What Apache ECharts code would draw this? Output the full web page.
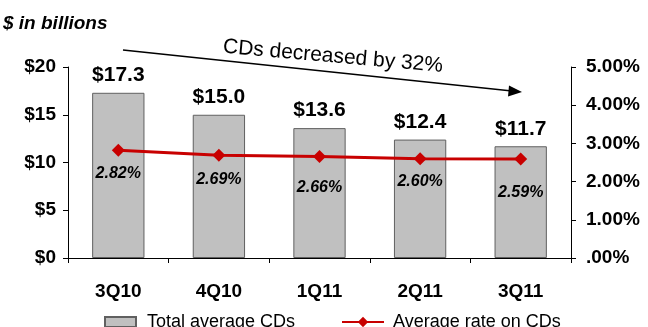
<!DOCTYPE html>
<html>
<head>
<meta charset="utf-8">
<script src="https://cdn.jsdelivr.net/npm/echarts@6/dist/echarts.min.js"></script>
<style>
  html, body { margin: 0; padding: 0; background: #fff; }
  #chart { width: 648px; height: 327px; }
</style>
</head>
<body>
<div id="chart"></div>
<script>
// Quarterly CD balances and average rates
const quarters = ['3Q10', '4Q10', '1Q11', '2Q11', '3Q11'];
const totalAverageCDs = [17.3, 15.0, 13.6, 12.4, 11.7];   // $ billions
const averageRateOnCDs = [2.82, 2.69, 2.66, 2.60, 2.59];  // percent
const balanceTicks = ['$0', '$5', '$10', '$15', '$20'];
const rateTicks = ['.00%', '1.00%', '2.00%', '3.00%', '4.00%', '5.00%'];

// gap between each rate point and its label (alternating to avoid crowding)
const rateLabelGap = [9, 10, 17, 8, 19];

const FONT = '"Liberation Sans", Arial, sans-serif';
const chart = echarts.init(document.getElementById('chart'), null, { renderer: 'canvas' });

chart.setOption({
  animation: false,
  backgroundColor: '#ffffff',
  textStyle: { fontFamily: FONT },
  grid: { left: 68, right: 77, top: 67, bottom: 69, containLabel: false },
  xAxis: {
    type: 'category',
    data: quarters,
    axisLine: { lineStyle: { color: '#000', width: 1 } },
    axisTick: { show: true, length: 5, lineStyle: { color: '#000' } },
    axisLabel: { color: '#000', fontSize: 19, fontWeight: 'bold', margin: 24, fontFamily: FONT }
  },
  yAxis: [
    {
      type: 'value', min: 0, max: 20, interval: 5,
      splitLine: { show: false },
      axisLine: { show: true, lineStyle: { color: '#000' } },
      axisTick: { show: true, length: 5, lineStyle: { color: '#000' } },
      axisLabel: {
        color: '#000', fontSize: 19, fontWeight: 'bold', margin: 12, fontFamily: FONT,
        formatter: v => balanceTicks[Math.round(v / 5)]
      }
    },
    {
      type: 'value', min: 0, max: 5, interval: 1,
      splitLine: { show: false },
      axisLine: { show: true, lineStyle: { color: '#000' } },
      axisTick: { show: true, length: 5, lineStyle: { color: '#000' } },
      axisLabel: {
        color: '#000', fontSize: 19, fontWeight: 'bold', margin: 15, fontFamily: FONT,
        formatter: v => rateTicks[Math.round(v)]
      }
    }
  ],
  legend: [
    {
      data: [{ name: 'Total average CDs', icon: 'rect' }],
      left: 99, top: 308,
      itemWidth: 31, itemHeight: 10,
      textStyle: { fontSize: 18, color: '#000', fontFamily: FONT, padding: [0, 0, 0, 6] }
    },
    {
      data: ['Average rate on CDs'],
      left: 336, top: 308,
      itemWidth: 42, itemHeight: 13,
      textStyle: { fontSize: 18, color: '#000', fontFamily: FONT, padding: [0, 0, 0, 4] }
    }
  ],
  series: [
    {
      name: 'Total average CDs',
      type: 'bar',
      data: totalAverageCDs,
      barWidth: '52%',
      itemStyle: { color: '#c0c0c0', borderColor: '#606060', borderWidth: 1 },
      label: {
        show: true, position: 'top', distance: 7,
        color: '#000', fontSize: 21, fontWeight: 'bold', fontFamily: FONT,
        formatter: p => '$' + p.value.toFixed(1)
      },
      z: 2
    },
    {
      name: 'Average rate on CDs',
      type: 'line',
      yAxisIndex: 1,
      data: averageRateOnCDs.map((v, i) => ({ value: v, label: { distance: rateLabelGap[i] } })),
      symbol: 'diamond',
      symbolSize: 13,
      lineStyle: { color: '#c80000', width: 3 },
      itemStyle: { color: '#c80000' },
      label: {
        show: true, position: 'bottom',
        color: '#000', fontSize: 16, fontWeight: 'bold', fontStyle: 'italic', fontFamily: FONT,
        formatter: p => p.value.toFixed(2) + '%'
      },
      z: 3
    }
  ],
  graphic: [
    {
      type: 'text', left: 3, top: 14,
      style: { text: '$ in billions', font: 'italic bold 19px ' + FONT, fill: '#000' }
    },
    {
      type: 'line',
      shape: { x1: 123, y1: 50, x2: 512, y2: 91 },
      style: { stroke: '#000', lineWidth: 1.5 }
    },
    {
      type: 'polygon',
      shape: { points: [[522, 92], [509, 85.5], [508, 96.5]] },
      style: { fill: '#000' }
    },
    {
      type: 'text',
      x: 332, y: 67,
      rotation: -0.088,
      style: {
        text: 'CDs decreased by 32%', font: '21px ' + FONT, fill: '#000',
        align: 'center', verticalAlign: 'bottom'
      }
    }
  ]
});
</script>
</body>
</html>
